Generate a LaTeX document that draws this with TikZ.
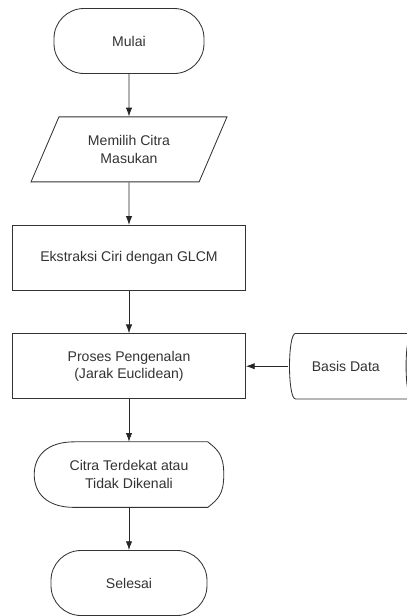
\documentclass[tikz,border=0pt]{standalone}
\usepackage{fontspec}
\setmainfont{Liberation Sans}
\usetikzlibrary{shapes.geometric, arrows.meta}
\tikzstyle{startstop} = [rectangle, 
rounded corners=0.75cm, 
minimum width=3.8cm, 
minimum height=1.625cm, 
text centered, 
draw=black!80, 
semithick]
\tikzstyle{io} = [trapezium, 
trapezium left angle=64, 
trapezium right angle=116, 
trapezium stretches=true, 
minimum width=4.9cm, 
minimum height=1.625cm, 
align=center, 
draw=black!80, 
semithick]
\tikzstyle{process} = [rectangle, 
minimum width=5.825cm, 
minimum height=1.625cm, 
align=center, 
draw=black!80, 
semithick]
\tikzstyle{shapebox} = [rectangle, 
minimum height=1.625cm, 
align=center]
\tikzstyle{shapeline} = [draw=black!80, semithick]
\tikzstyle{arrow} = [semithick,->,>={Latex[length=2.2mm,width=1.6mm]},black!85]
\begin{document}
\begin{tikzpicture}[node distance=2.71cm, font=\fontsize{10}{12.5}\selectfont, text=black!80]
  \useasboundingbox (0,0) rectangle (10.15,-15.4);
  \node (start) [startstop, minimum width=3.75cm] at (3.225,-1.025) {Mulai};
  \node (input) [io, below of=start] {Memilih Citra\\Masukan};
  \node (extract) [process, below of=input] {Ekstraksi Ciri dengan GLCM};
  \node (recog) [process, below of=extract] {Proses Pengenalan\\(Jarak Euclidean)};
  \node (basis) [shapebox, minimum width=2.9cm, right of=recog, xshift=2.71cm] {Basis Data};
  \node (result) [shapebox, minimum width=4.725cm, below of=recog] {Citra Terdekat atau\\Tidak Dikenali};
  \node (stop) [startstop, minimum width=3.9cm, below of=result] {Selesai};

  % stored data
  \draw [shapeline] ([xshift=0.2cm]basis.north west) -- ([xshift=0.2cm]basis.north east)
    .. controls (basis.north east) and (basis.south east) .. ([xshift=0.2cm]basis.south east)
    -- ([xshift=0.2cm]basis.south west)
    .. controls (basis.south west) and (basis.north west) .. cycle;
  % display
  \draw [shapeline] ([xshift=1cm]result.north west) -- ([xshift=-0.4cm]result.north east)
    .. controls +(0.25cm,-0.2cm) and +(0,0.5cm) .. (result.east)
    .. controls +(0,-0.5cm) and +(0.25cm,0.2cm) .. ([xshift=-0.4cm]result.south east)
    -- ([xshift=1cm]result.south west)
    .. controls +(-0.7cm,0) and +(0,-0.45cm) .. (result.west)
    .. controls +(0,0.45cm) and +(-0.7cm,0) .. ([xshift=1cm]result.north west) -- cycle;

  \draw [arrow] (start) -- (input);
  \draw [arrow] (input) -- (extract);
  \draw [arrow] (extract) -- (recog);
  \draw [arrow] (basis) -- (recog);
  \draw [arrow] (recog) -- (result);
  \draw [arrow] (result) -- (stop);
\end{tikzpicture}
\end{document}
